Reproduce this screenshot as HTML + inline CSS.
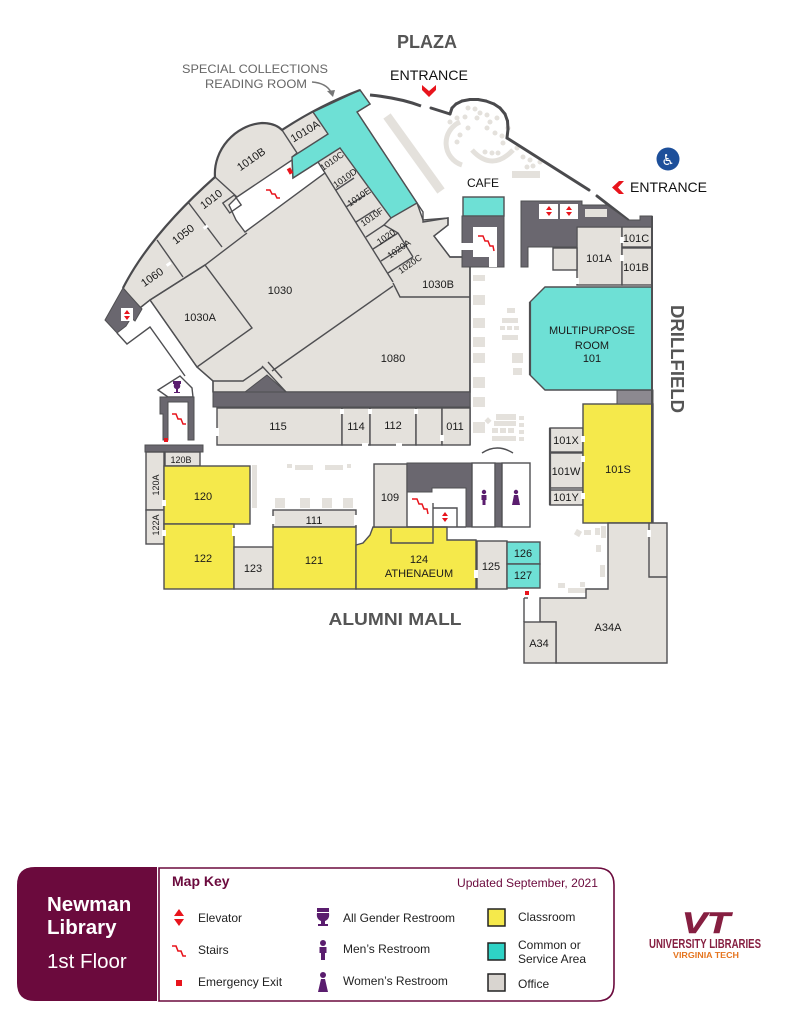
<!DOCTYPE html>
<html><head><meta charset="utf-8"><style>
html,body{margin:0;padding:0;background:#fff;}
svg{display:block;font-family:"Liberation Sans",Arial,sans-serif;}
.g{fill:#e4e1dc;stroke:#4f4f52;stroke-width:1.4}
.y{fill:#f5e94b;stroke:#4f4f52;stroke-width:1.4}
.c{fill:#6ee0d5;stroke:#4f4f52;stroke-width:1.4}
.d{fill:#6a676f;stroke:#4f4f52;stroke-width:1}
.w{fill:#fff;stroke:#4f4f52;stroke-width:1.4}
.l{fill:none;stroke:#4f4f52;stroke-width:1.4}
.t{font-size:11px;fill:#1a1a1a;text-anchor:middle}
.s{font-size:9px;fill:#1a1a1a;text-anchor:middle}
.k{font-size:12px;fill:#222}
.red{fill:#e8141c}
.pu{fill:#5a1d6e}
.gap{fill:#fff}
.bw{stroke:#4a4a4d;stroke-width:3;stroke-linecap:round}
</style></head><body>
<svg xmlns="http://www.w3.org/2000/svg" width="791" height="1023" viewBox="0 0 791 1023">
<rect width="791" height="1023" fill="#fff"/>

<!-- plaza decor -->
<g fill="#e4e1dc">
<path d="M387,116 L441,191" stroke="#e4e1dc" stroke-width="9"/>
<path d="M460,122 A23,23 0 0 0 462,165" fill="none" stroke="#e4e1dc" stroke-width="5"/>
<path d="M472,150 Q492,172 513,150" fill="none" stroke="#e4e1dc" stroke-width="5"/>
<circle cx="468" cy="108" r="2.5"/><circle cx="475" cy="109" r="2.5"/><circle cx="480" cy="113" r="2.5"/>
<circle cx="465" cy="117" r="2.5"/><circle cx="477" cy="118" r="2.5"/><circle cx="487" cy="115" r="2.5"/>
<circle cx="490" cy="122" r="2.5"/><circle cx="497" cy="118" r="2.5"/><circle cx="450" cy="122" r="2.5"/>
<circle cx="457" cy="118" r="2.5"/><circle cx="468" cy="128" r="2.5"/><circle cx="460" cy="135" r="2.5"/>
<circle cx="457" cy="142" r="2.5"/><circle cx="487" cy="128" r="2.5"/><circle cx="495" cy="133" r="2.5"/>
<circle cx="502" cy="136" r="2.5"/><circle cx="503" cy="143" r="2.5"/><circle cx="517" cy="148" r="2.5"/>
<circle cx="523" cy="157" r="2.5"/><circle cx="530" cy="160" r="2.5"/><circle cx="533" cy="166" r="2.5"/>
<circle cx="540" cy="162" r="2.5"/><circle cx="527" cy="167" r="2.5"/><circle cx="498" cy="153" r="2.5"/>
<circle cx="492" cy="153" r="2.5"/><circle cx="485" cy="152" r="2.5"/><circle cx="508" cy="128" r="2.5"/>
<rect x="512" y="171" width="28" height="7"/>
<!-- lobby furniture -->
<rect x="473" y="275" width="12" height="6"/><rect x="473" y="295" width="12" height="10"/>
<rect x="473" y="318" width="12" height="10"/><rect x="473" y="337" width="12" height="10"/>
<rect x="473" y="353" width="12" height="10"/><rect x="473" y="377" width="12" height="11"/>
<rect x="473" y="397" width="12" height="10"/><rect x="473" y="422" width="12" height="11"/>
<rect x="507" y="308" width="8" height="5"/><rect x="502" y="318" width="16" height="5"/>
<rect x="500" y="326" width="5" height="4"/><rect x="507" y="326" width="5" height="4"/><rect x="514" y="326" width="5" height="4"/>
<rect x="502" y="335" width="16" height="5"/><rect x="512" y="353" width="11" height="10"/><rect x="513" y="368" width="9" height="7"/>
<rect x="496" y="414" width="20" height="6"/><rect x="494" y="421" width="22" height="5"/>
<rect x="492" y="428" width="6" height="5"/><rect x="500" y="428" width="6" height="5"/><rect x="508" y="428" width="6" height="5"/>
<rect x="492" y="436" width="24" height="5"/><rect x="519" y="416" width="5" height="4"/><rect x="519" y="423" width="5" height="4"/>
<rect x="519" y="430" width="5" height="4"/><rect x="519" y="437" width="5" height="4"/>
<rect x="486" y="418" width="5" height="5" transform="rotate(45 488 420)"/>
<rect x="575" y="530" width="6" height="6" transform="rotate(30 578 533)"/><rect x="584" y="530" width="7" height="5"/>
<rect x="595" y="528" width="5" height="7"/><rect x="601" y="526" width="5" height="12"/>
<rect x="596" y="545" width="5" height="7"/><rect x="600" y="565" width="5" height="12"/>
<rect x="558" y="583" width="7" height="5"/><rect x="568" y="588" width="22" height="5"/><rect x="580" y="582" width="5" height="5"/>
<rect x="287" y="464" width="5" height="4"/><rect x="295" y="465" width="18" height="5"/>
<rect x="325" y="465" width="18" height="5"/><rect x="347" y="464" width="4" height="4"/>
<rect x="252" y="465" width="5" height="43"/>
<rect x="275" y="498" width="10" height="10"/><rect x="300" y="498" width="10" height="10"/>
<rect x="322" y="498" width="10" height="10"/><rect x="343" y="498" width="10" height="10"/>
</g>

<!-- plaza bump wall (explicit segments) -->
<line class="bw" x1="450" y1="114" x2="452" y2="108"/>
<line class="bw" x1="452" y1="108" x2="456" y2="104"/>
<line class="bw" x1="456" y1="104" x2="462" y2="101"/>
<line class="bw" x1="462" y1="101" x2="470" y2="99.5"/>
<line class="bw" x1="470" y1="99.5" x2="478" y2="99.5"/>
<line class="bw" x1="478" y1="99.5" x2="486" y2="101"/>
<line class="bw" x1="486" y1="101" x2="494" y2="104"/>
<line class="bw" x1="494" y1="104" x2="500" y2="108"/>
<line class="bw" x1="500" y1="108" x2="505" y2="114"/>
<line class="bw" x1="505" y1="114" x2="507.5" y2="121"/>
<line class="bw" x1="507.5" y1="121" x2="508" y2="129"/>
<line class="bw" x1="508" y1="129" x2="507" y2="138"/>

<!-- main wing gray -->
<path class="g" d="M123,288 Q150,235 215,177 C213,150 235,125 262,123 C272,123 278,126 282,130 Q320,105 360,90 L370,104 L357,112 L417,203 L423,220 L448,218 L448,225 L434,236 L450,257 L470,257 L470,392 L213,392 L213,381 L197,367 L150,300 L140,308 Z"/>
<!-- wing stair corridor -->
<polygon class="w" points="237,197 292,160 293,178 318,162 325,173 245,232 236,220 229,205"/>
<!-- cyan T -->
<polygon class="c" points="313,112 360,90 370,104 357,112 417,203 391,218 340,148 318,162 293,178 292,157 328,134"/>
<!-- wing lines -->
<polyline class="l" points="282,130 297,153 292,157"/>
<polyline class="l" points="137,310 150,300 205,265 247,233"/>
<polygon class="l" points="150,300 205,265 252,328 197,367"/>
<line class="l" x1="157" y1="240" x2="183" y2="277"/>
<line class="l" x1="188" y1="202" x2="222" y2="247"/>
<line class="l" x1="215" y1="177" x2="237" y2="197"/>
<rect class="l" x="225" y="198" width="14" height="12" transform="rotate(-35 232 204)"/>
<polyline class="l" points="325,173 393,282"/>
<line class="l" x1="336" y1="190" x2="354" y2="178"/>
<line class="l" x1="346" y1="207" x2="365" y2="195"/>
<line class="l" x1="356" y1="222" x2="375" y2="210"/>
<line class="l" x1="366" y1="237" x2="384" y2="225"/>
<line class="l" x1="373" y1="249" x2="398" y2="233"/>
<line class="l" x1="381" y1="261" x2="406" y2="245"/>
<line class="l" x1="388" y1="273" x2="413" y2="257"/>
<polyline class="l" points="391,218 384,225 398,233 413,257"/>
<polyline class="l" points="417,203 423,212 423,222 448,218 448,225 434,236 450,257 470,257"/>
<polyline class="l" points="393,283 400,297 470,297"/>
<line class="l" x1="393" y1="286" x2="272" y2="371"/>
<line class="l" x1="268" y1="362" x2="282" y2="378"/>
<polyline class="l" points="197,367 213,381 243,381 256,372 263,367"/>
<line class="l" x1="262" y1="366" x2="287" y2="393"/>
<polygon class="d" points="245,392 267,375 286,392"/>
<line x1="470" y1="257" x2="470" y2="445" stroke="#4f4f52" stroke-width="1.6"/>
<!-- door gaps in wing -->
<rect class="gap" x="166" y="263" width="5" height="3" transform="rotate(-35 168 264)"/>
<rect class="gap" x="203" y="226" width="5" height="3" transform="rotate(-35 205 227)"/>
<rect class="gap" x="171" y="349" width="5" height="3" transform="rotate(-35 173 350)"/>
<rect class="gap" x="318" y="170" width="3" height="5"/>
<!-- wing outer wall -->
<path d="M123,288 Q150,235 215,177 C213,150 235,125 262,123 C272,123 278,126 282,130 Q320,105 360,90" fill="none" stroke="#4a4a4d" stroke-width="2.2"/>
<path d="M370,95 Q400,98 421,106" fill="none" stroke="#4a4a4d" stroke-width="3"/>
<line class="bw" x1="431" y1="108" x2="450" y2="114"/>
<line class="bw" x1="507" y1="138" x2="589" y2="190"/>
<line class="bw" x1="597" y1="196" x2="628" y2="220"/>

<!-- left elevator -->
<polygon class="d" points="105,320 123,288 142,309 135,321 131,318 126,326 117,333"/>
<rect x="121" y="308" width="12" height="13" fill="#fff"/>
<polygon class="red" points="124,314 130,314 127,310"/><polygon class="red" points="124,316 130,316 127,320"/>
<polyline class="l" points="117,333 127,344 150,327 185,376"/>
<polygon class="w" points="158,390 180,376 192,388 193,397 168,397"/>
<g class="pu"><rect x="173" y="381" width="8" height="3"/><path d="M174,384 h6 q1,4 -2,5 v3 h2 v1 h-6 v-1 h2 v-3 q-3,-1 -2,-5z"/></g>
<path d="M160,397 h34 v43 h-6 v-38 h-20 v38 h-5 v-26 h-3z" fill="#6a676f" stroke="#4f4f52" stroke-width="1"/>
<polyline points="172,414 176,414 178,419 181,419 183,424 186,424" fill="none" stroke="#e8141c" stroke-width="1.5"/>
<rect x="164" y="438" width="4" height="4" class="red"/>
<rect class="d" x="145" y="445" width="58" height="7"/>
<line class="l" x1="213" y1="381" x2="213" y2="392"/>

<!-- row 115 -->
<rect class="d" x="213" y="392" width="257" height="15"/>
<rect class="g" x="217" y="408" width="125" height="37"/>
<rect class="g" x="342" y="408" width="28" height="37"/>
<rect class="g" x="370" y="408" width="46" height="37"/>
<rect class="g" x="416" y="408" width="26" height="37"/>
<rect class="g" x="442" y="408" width="28" height="37"/>
<rect class="gap" x="340" y="409" width="4" height="5"/>
<rect class="gap" x="368" y="409" width="4" height="5"/>
<rect class="gap" x="414" y="409" width="4" height="5"/>
<rect class="gap" x="440" y="435" width="4" height="6"/>
<rect class="gap" x="362" y="443" width="6" height="4"/>
<rect class="gap" x="396" y="443" width="6" height="4"/>
<rect class="gap" x="215" y="428" width="4" height="8"/>

<!-- bottom-left rooms -->
<rect class="g" x="165" y="452" width="35" height="14"/>
<rect class="g" x="146" y="452" width="18" height="58"/>
<rect class="g" x="146" y="510" width="18" height="34"/>
<rect class="y" x="164" y="466" width="86" height="58"/>
<rect class="y" x="164" y="524" width="70" height="65"/>
<rect class="g" x="234" y="547" width="39" height="42"/>
<rect class="g" x="273" y="510" width="83" height="17"/>
<rect class="y" x="273" y="527" width="83" height="62"/>
<polygon class="y" points="356,545 363,543 370,535 373,527 447,527 447,540 476,540 476,589 356,589"/>
<polyline class="l" points="391,529 391,543 433,543 433,503"/>
<rect class="g" x="477" y="541" width="30" height="48"/>
<rect class="c" x="507" y="542" width="33" height="22"/>
<rect class="c" x="507" y="564" width="33" height="24"/>
<rect class="g" x="374" y="464" width="33" height="63"/>
<polygon class="d" points="407,463 472,463 472,527 466,527 466,488 432,488 432,492 407,492"/>
<line class="l" x1="407" y1="527" x2="466" y2="527"/>
<polyline class="l" points="433,508 457,508 457,527"/>
<polyline points="412,499 417,499 419,504 422,504 424,509 427,509 428,514" fill="none" stroke="#e8141c" stroke-width="1.5"/>
<polygon class="red" points="442,516 448,516 445,512"/><polygon class="red" points="442,518 448,518 445,522"/>
<rect class="w" x="472" y="463" width="23" height="64"/>
<rect class="d" x="495" y="463" width="7" height="64"/>
<rect class="w" x="502" y="463" width="28" height="64"/>
<path d="M482,453 Q497,443 513,453" fill="none" stroke="#4f4f52" stroke-width="1.4"/>
<g class="pu"><circle cx="484" cy="492" r="2.2"/><rect x="481.5" y="495" width="5" height="5"/><rect x="482.5" y="499" width="3" height="6"/>
<circle cx="516" cy="492" r="2.2"/><polygon points="514,495 518,495 520,505 512,505"/></g>
<rect class="gap" x="162" y="500" width="4" height="6"/>
<rect class="gap" x="162" y="530" width="4" height="6"/>
<rect class="gap" x="232" y="528" width="4" height="8"/>
<rect class="gap" x="271" y="516" width="4" height="8"/>
<rect class="gap" x="354" y="515" width="4" height="10"/>
<rect class="gap" x="474" y="570" width="4" height="8"/>

<!-- right rooms -->
<rect class="g" x="550" y="428" width="33" height="24"/>
<rect class="g" x="550" y="453" width="33" height="35"/>
<rect class="g" x="550" y="490" width="33" height="15"/>
<line x1="550" y1="428" x2="550" y2="505" stroke="#4f4f52" stroke-width="2.2"/>
<rect class="y" x="583" y="404" width="70" height="119"/>
<rect class="gap" x="581" y="436" width="4" height="6"/>
<rect class="gap" x="581" y="456" width="4" height="6"/>
<rect class="gap" x="581" y="493" width="4" height="6"/>
<rect x="617" y="390" width="36" height="14" fill="#8c8990" stroke="#4f4f52" stroke-width="1"/>
<polygon class="g" points="608,523 667,523 667,663 556,663 556,622 540,622 540,598 586,598 586,589 608,589"/>
<polyline class="l" points="649,523 649,577 667,577"/>
<rect class="gap" x="647" y="530" width="4" height="7"/>
<rect class="g" x="524" y="622" width="32" height="41"/>
<line class="l" x1="524" y1="598" x2="524" y2="622"/>
<line class="l" x1="524" y1="598" x2="528" y2="598"/>
<rect x="525" y="591" width="4" height="4" class="red"/>

<!-- multipurpose & 101 -->
<polygon class="c" points="545,287 652,287 652,390 545,390 530,375 530,302"/>
<line x1="530" y1="302" x2="530" y2="375" stroke="#4f4f52" stroke-width="2.2"/>
<rect class="g" x="577" y="227" width="45" height="58"/>
<rect class="g" x="622" y="227" width="30" height="20"/>
<rect class="g" x="622" y="248" width="30" height="37"/>
<rect class="g" x="553" y="248" width="24" height="22"/>
<rect class="gap" x="620" y="237" width="4" height="6"/>
<rect class="gap" x="620" y="255" width="4" height="6"/>
<rect class="gap" x="575" y="278" width="4" height="6"/>
<polygon class="d" points="521,201 582,201 582,205 607,205 628,220 640,220 640,216 652,216 652,227 577,227 577,247 528,247 528,267 521,267"/>
<rect x="539" y="204" width="19" height="15" fill="#fff"/>
<rect x="560" y="204" width="18" height="15" fill="#fff"/>
<rect x="585" y="209" width="22" height="8" fill="#e4e1dc"/>
<polygon class="red" points="546,210 552,210 549,206"/><polygon class="red" points="546,212 552,212 549,216"/>
<polygon class="red" points="566,210 572,210 569,206"/><polygon class="red" points="566,212 572,212 569,216"/>
<line x1="652" y1="216" x2="652" y2="523" stroke="#4f4f52" stroke-width="2"/>

<!-- cafe -->
<rect class="c" x="463" y="197" width="41" height="19"/>
<rect class="d" x="462" y="216" width="42" height="51"/>
<rect x="473" y="227" width="24" height="30" fill="#fff"/>
<rect x="489" y="256" width="8" height="11" fill="#fff"/>
<rect x="461" y="243" width="12" height="7" fill="#fff"/>
<polyline points="478,236 483,236 485,241 488,241 490,246 493,246 494,251" fill="none" stroke="#e8141c" stroke-width="1.5"/>

<!-- wing stairs & exit -->
<polyline points="266,190 270,190 272,194 275,194 277,198 280,198" fill="none" stroke="#e8141c" stroke-width="1.5"/>
<rect x="288" y="168" width="4" height="6" class="red" transform="rotate(-30 290 171)"/>

<!-- room labels -->
<g class="t">
<text x="152" y="281" transform="rotate(-35 152 277)">1060</text>
<text x="183" y="238" transform="rotate(-38 183 234)">1050</text>
<text x="211" y="203" transform="rotate(-37 211 199)">1010</text>
<text x="251" y="163" transform="rotate(-35 251 159)">1010B</text>
<text x="305" y="135" transform="rotate(-31 305 131)">1010A</text>
<text x="280" y="294">1030</text>
<text x="200" y="321">1030A</text>
<text x="393" y="362">1080</text>
<text x="438" y="288">1030B</text>
<text x="278" y="430">115</text>
<text x="356" y="430">114</text>
<text x="393" y="429">112</text>
<text x="455" y="430">011</text>
<text x="203" y="500">120</text>
<text x="203" y="562">122</text>
<text x="253" y="572">123</text>
<text x="314" y="524">111</text>
<text x="314" y="564">121</text>
<text x="390" y="501">109</text>
<text x="419" y="563">124</text>
<text x="419" y="577">ATHENAEUM</text>
<text x="491" y="570">125</text>
<text x="523" y="557">126</text>
<text x="523" y="579">127</text>
<text x="566" y="444">101X</text>
<text x="566" y="475">101W</text>
<text x="566" y="501">101Y</text>
<text x="618" y="473">101S</text>
<text x="608" y="631">A34A</text>
<text x="539" y="647">A34</text>
<text x="599" y="262">101A</text>
<text x="636" y="271">101B</text>
<text x="636" y="242">101C</text>
<text x="592" y="334">MULTIPURPOSE</text>
<text x="592" y="349">ROOM</text>
<text x="592" y="362">101</text>
</g>
<g class="s">
<text x="181" y="463">120B</text>
<text x="156" y="488" transform="rotate(-90 156 485)">120A</text>
<text x="156" y="528" transform="rotate(-90 156 525)">122A</text>
<text x="332" y="164" transform="rotate(-35 332 161)">1010C</text>
<text x="345" y="181" transform="rotate(-35 345 178)">1010D</text>
<text x="359" y="200" transform="rotate(-35 359 197)">1010E</text>
<text x="372" y="220" transform="rotate(-35 372 217)">1010F</text>
<text x="386" y="240" transform="rotate(-35 386 237)">1020</text>
<text x="399" y="252" transform="rotate(-35 399 249)">1020A</text>
<text x="410" y="267" transform="rotate(-35 410 264)">1020C</text>
</g>

<!-- outside labels -->
<text x="427" y="48" font-size="18" font-weight="bold" fill="#555" text-anchor="middle">PLAZA</text>
<text x="429" y="80" font-size="14" fill="#111" text-anchor="middle" textLength="78" lengthAdjust="spacingAndGlyphs">ENTRANCE</text>
<polygon class="red" points="422,85 429,91 436,85 436,90 429,97 422,90"/>
<text x="255" y="73" font-size="12" fill="#666" text-anchor="middle" textLength="146" lengthAdjust="spacingAndGlyphs">SPECIAL COLLECTIONS</text>
<text x="256" y="88" font-size="12" fill="#666" text-anchor="middle" textLength="102" lengthAdjust="spacingAndGlyphs">READING ROOM</text>
<path d="M312,82 Q326,83 331,92" fill="none" stroke="#777" stroke-width="1.5"/>
<polygon points="327,91 335,90 333,97" fill="#777"/>
<text x="483" y="187" font-size="12" fill="#111" text-anchor="middle">CAFE</text>
<circle cx="668" cy="159" r="11.5" fill="#1d4f9a"/>
<text x="668" y="165" font-size="15" fill="#fff" text-anchor="middle" font-family="DejaVu Sans, sans-serif">♿</text>
<polygon class="red" points="619,181 624,181 618,187.5 624,194 619,194 612,187.5"/>
<text x="630" y="192" font-size="14" fill="#111" textLength="77" lengthAdjust="spacingAndGlyphs">ENTRANCE</text>
<text x="671" y="305" font-size="18" font-weight="bold" fill="#555" transform="rotate(90 671 305)" textLength="108" lengthAdjust="spacingAndGlyphs">DRILLFIELD</text>
<text x="395" y="625" font-size="17.5" font-weight="bold" fill="#555" text-anchor="middle" textLength="133" lengthAdjust="spacingAndGlyphs">ALUMNI MALL</text>

<!-- legend -->
<path d="M35,867 H157 V1001 H35 Q17,1001 17,983 V885 Q17,867 35,867 Z" fill="#6b0a3d"/>
<text x="47" y="911" font-size="20.5" font-weight="bold" fill="#fff">Newman</text>
<text x="47" y="934" font-size="20.5" font-weight="bold" fill="#fff">Library</text>
<text x="47" y="968" font-size="20.5" fill="#fff">1st Floor</text>
<path d="M159,868 H597 Q614,868 614,885 V984 Q614,1001 597,1001 H159 Z" fill="#fff" stroke="#6b0a3d" stroke-width="1.6"/>
<text x="172" y="886" font-size="14" font-weight="bold" fill="#6b0a3d">Map Key</text>
<text x="598" y="887" font-size="12" fill="#6b0a3d" text-anchor="end" textLength="141" lengthAdjust="spacingAndGlyphs">Updated September, 2021</text>
<polygon class="red" points="174,916 184,916 179,909"/><polygon class="red" points="174,919 184,919 179,926"/>
<polyline points="172,946 176,946 178,951 181,951 183,956 186,956" fill="none" stroke="#e8141c" stroke-width="1.6"/>
<rect x="176" y="980" width="6" height="6" class="red"/>
<text class="k" x="198" y="922">Elevator</text>
<text class="k" x="198" y="954">Stairs</text>
<text class="k" x="198" y="986">Emergency Exit</text>
<g class="pu">
<rect x="317" y="908" width="12" height="4"/>
<path d="M317,913 h12 q1,6 -4,8 v3 h3 v2 h-10 v-2 h3 v-3 q-5,-2 -4,-8z"/>
<circle cx="323" cy="943" r="3"/><rect x="319.5" y="947" width="7" height="6"/><rect x="321" y="952" width="4" height="8"/>
<circle cx="323" cy="975" r="3"/><polygon points="321,979 325,979 328,992 318,992"/>
</g>
<text class="k" x="343" y="922">All Gender Restroom</text>
<text class="k" x="343" y="953">Men’s Restroom</text>
<text class="k" x="343" y="985">Women’s Restroom</text>
<rect x="488" y="909" width="17" height="17" fill="#f5e94b" stroke="#222" stroke-width="1.5"/>
<rect x="488" y="943" width="17" height="17" fill="#2ed3c6" stroke="#222" stroke-width="1.5"/>
<rect x="488" y="974" width="17" height="17" fill="#d9d5d0" stroke="#222" stroke-width="1.5"/>
<text class="k" x="518" y="921">Classroom</text>
<text class="k" x="518" y="949">Common or</text>
<text class="k" x="518" y="963">Service Area</text>
<text class="k" x="518" y="988">Office</text>

<!-- logo -->
<text x="706" y="933" font-size="30" font-weight="bold" font-style="italic" fill="#861f41" stroke="#861f41" stroke-width="0.6" text-anchor="middle" textLength="48" lengthAdjust="spacingAndGlyphs">VT</text>
<text x="705" y="948" font-size="12.5" font-weight="bold" fill="#861f41" text-anchor="middle" textLength="112" lengthAdjust="spacingAndGlyphs">UNIVERSITY LIBRARIES</text>
<text x="706" y="958" font-size="8" font-weight="bold" fill="#e5751f" text-anchor="middle" textLength="66" lengthAdjust="spacingAndGlyphs">VIRGINIA TECH</text>
</svg>
</body></html>
